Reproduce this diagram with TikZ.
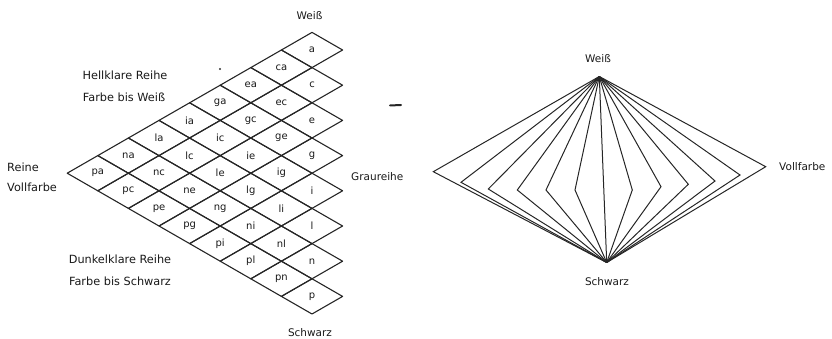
\documentclass[tikz,border=0pt]{standalone}
\usepackage{fontspec}
\setmainfont{DejaVu Sans}
\usetikzlibrary{calc}
\begin{document}
\begin{tikzpicture}[x=1pt,y=-1pt,
  lbl/.style={font=\fontsize{10.5}{12}\selectfont, text=black!90, inner sep=0pt},
  biglbl/.style={font=\fontsize{11.3}{13}\selectfont, text=black!90, inner sep=0pt},
  celltxt/.style={font=\fontsize{10}{12}\selectfont, text=black!90, inner sep=0pt},
  gridline/.style={draw=black!85, line width=1.1pt, line join=round},
  fan/.style={draw=black!85, line width=1pt, line join=miter}]
\useasboundingbox (0,0) rectangle (832,339);
% ---------- left triangle of diamonds ----------
\foreach \row [count=\i from 0] in {{a},{ca,c},{ea,ec,e},{ga,gc,ge,g},{ia,ic,ie,ig,i},{la,lc,le,lg,li,l},{na,nc,ne,ng,ni,nl,n},{pa,pc,pe,pg,pi,pl,pn,p}}{
  \foreach \t [count=\j from 0] in \row {
    \coordinate (c\i-\j) at ({312+30.6*(\j-\i)},{50+17.6*(\i+\j)});
    \draw[gridline] ($(c\i-\j)+(0,-17.6)$) -- ++(30.6,17.6) -- ++(-30.6,17.6) -- ++(-30.6,-17.6) -- cycle;
    \node[celltxt] (n\i-\j) at (c\i-\j) {\t};
  }
}
\node[lbl] (weissA) at (309.5,16) {Weiß};
\node[biglbl] (hell1) at (125,75) {Hellklare Reihe};
\node[biglbl] (hell2) at (124,97) {Farbe bis Weiß};
\node[biglbl,anchor=west] (reine) at (7,167) {Reine};
\node[biglbl,anchor=west] (voll1) at (7,187) {Vollfarbe};
\node[lbl,anchor=west] (grau) at (351,177) {Graureihe};
\node[biglbl] (dunkel1) at (120,259) {Dunkelklare Reihe};
\node[biglbl] (dunkel2) at (120,281) {Farbe bis Schwarz};
\node[lbl] (schwarzA) at (310,333) {Schwarz};
\fill[black!80] (220,69) circle (1.1);
\coordinate (dashA) at (390,105.5);
\coordinate (dashB) at (401,105);
\draw[black!85, line width=2pt, line cap=round] (dashA) -- (dashB);
% ---------- right fan ----------
\coordinate (W) at (599.3,76.5);
\coordinate (S) at (606.7,262.5);
\foreach \k/\x/\y in {1/433.3/171.7, 2/461/182.3, 3/488.3/189, 4/517.3/190, 5/546/190, 6/575/190,
                      7/632.3/190, 8/661/186.7, 9/688.3/184.3, 10/715/181, 11/740/175, 12/765.7/166.7}{
  \coordinate (V\k) at (\x,\y);
  \draw[fan] (W) -- (V\k) -- (S);
}
\draw[fan] (W) -- (S);
\node[lbl] (weissB) at (598,59) {Weiß};
\node[lbl] (schwarzB) at (607,282) {Schwarz};
\node[lbl,anchor=west] (voll2) at (779,167) {Vollfarbe};
\end{tikzpicture}
\end{document}
